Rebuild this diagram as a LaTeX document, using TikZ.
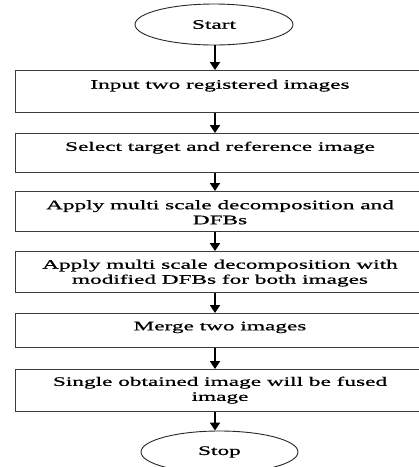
\documentclass[tikz,border=0pt]{standalone}
\usepackage{fontspec}
\setmainfont{Liberation Serif}
\newfontfamily\widefont[FakeStretch=1.79,FakeBold=0.8]{Liberation Serif}
\usetikzlibrary{shapes.geometric,arrows.meta}
\definecolor{boxgray}{HTML}{3C3C3C}
\begin{document}
\begin{tikzpicture}[x=1pt,y=-1pt,
  box/.style={draw=boxgray, line width=1.3pt, rectangle, inner sep=0pt, anchor=north west, minimum width=412pt},
  txt/.style={anchor=north, inner sep=0pt, align=center, font=\widefont\fontsize{13}{15}\selectfont},
  term/.style={draw=black!85, line width=0.9pt, ellipse, inner sep=0pt, font=\widefont\fontsize{13}{15}\selectfont},
  arr/.style={-{Triangle[width=10pt,length=8pt]}, line width=1.8pt, black}
]
\useasboundingbox (0,0) rectangle (419,467);
\clip (0,0) rectangle (419,467);
\coordinate (ax) at (215,0);
\node[term, minimum width=158pt, minimum height=41pt] (start) at (214,24.5) {Start};
\node[box, minimum height=42pt] (b1) at (14.5,70) {};
\node[box, minimum height=39pt] (b2) at (14.5,133) {};
\node[box, minimum height=40pt] (b3) at (14.5,191) {};
\node[box, minimum height=41pt] (b4) at (14.5,251) {};
\node[box, minimum height=34pt] (b5) at (14.5,313) {};
\node[box, minimum height=42pt] (b6) at (14.5,369) {};
\node[term, minimum width=157pt, minimum height=42pt] (stop) at (219.5,452) {Stop};
\node[txt] (t1) at (220,79.5) {Input two registered images};
\node[txt] (t2) at (220,141.5) {Select target and reference image};
\node[txt] (t3) at (220,200) {Apply multi scale decomposition and\\DFBs};
\node[txt] (t4) at (220,259.5) {Apply multi scale decomposition with\\modified DFBs for both images};
\node[txt] (t5) at (220,321.5) {Merge two images};
\node[txt] (t6) at (220,376.5) {Single obtained image will be fused\\image};
\draw[arr] (start.south -| ax) -- (b1.north -| ax);
\draw[arr] (b1.south -| ax) -- (b2.north -| ax);
\draw[arr] (b2.south -| ax) -- (b3.north -| ax);
\draw[arr] (b3.south -| ax) -- (b4.north -| ax);
\draw[arr] (b4.south -| ax) -- (b5.north -| ax);
\draw[arr] (b5.south -| ax) -- (b6.north -| ax);
\draw[arr] (b6.south -| ax) -- (stop.north -| ax);
\end{tikzpicture}
\end{document}
